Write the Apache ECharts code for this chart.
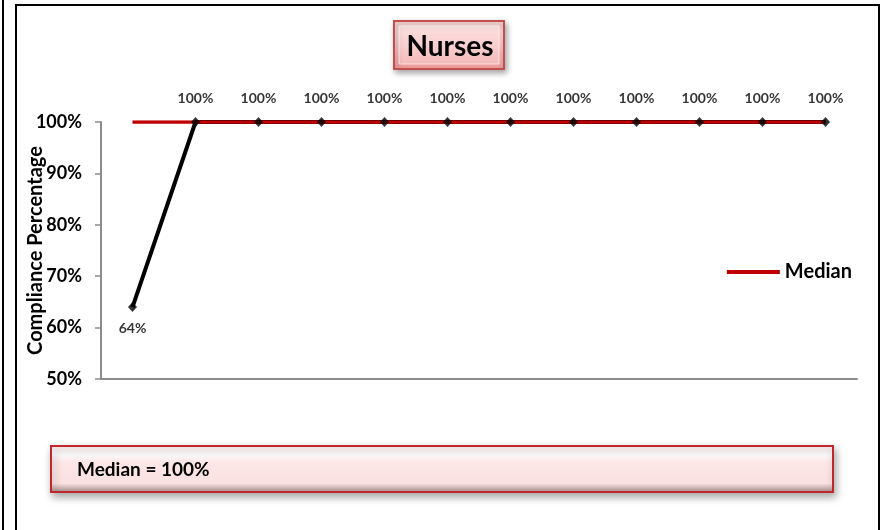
<!DOCTYPE html>
<html>
<head>
<meta charset="utf-8">
<script src="https://cdn.jsdelivr.net/npm/echarts@6/dist/echarts.min.js"></script>
<style>
  html, body { margin: 0; padding: 0; background: #fff; }
  #chart { width: 881px; height: 530px; }
</style>
</head>
<body>
<div id="chart"></div>
<script>
// data
var periods = ['1', '2', '3', '4', '5', '6', '7', '8', '9', '10', '11', '12'];
var compliance = [64, 100, 100, 100, 100, 100, 100, 100, 100, 100, 100, 100];
var median = [100, 100, 100, 100, 100, 100, 100, 100, 100, 100, 100, 100];
var yTicks = [50, 60, 70, 80, 90, 100];
var titleText = 'Nurses';
var medianText = 'Median = 100%';

var font = 'Lato, "Open Sans", sans-serif';

var chart = echarts.init(document.getElementById('chart'));

var pinkBox = {
    type: 'linear', x: 0, y: 0, x2: 0, y2: 1,
    colorStops: [
        { offset: 0, color: '#fbd9d9' },
        { offset: 0.45, color: '#f7c3c3' },
        { offset: 1, color: '#f09a9a' }
    ]
};

var option = {
    animation: false,
    grid: { left: 101, top: 122, right: 24, bottom: 151 },
    legend: {
        data: ['Median'],
        right: 24,
        top: 257,
        itemWidth: 53,
        itemHeight: 4,
        itemGap: 6,
        icon: 'rect',
        textStyle: { fontFamily: font, fontWeight: 'bold', fontSize: 20, color: '#000' }
    },
    xAxis: {
        type: 'category',
        data: periods,
        boundaryGap: true,
        axisLine: { lineStyle: { color: '#8c8c8c', width: 2 } },
        axisTick: { show: false },
        axisLabel: { show: false }
    },
    yAxis: {
        type: 'value',
        min: yTicks[0],
        max: yTicks[yTicks.length - 1],
        interval: 10,
        name: 'Compliance Percentage',
        nameLocation: 'middle',
        nameGap: 55,
        nameMoveOverlap: false,
        nameTextStyle: { fontFamily: font, fontWeight: 'bold', fontSize: 20, color: '#000' },
        splitLine: { show: false },
        axisLine: { show: true, lineStyle: { color: '#8c8c8c', width: 2 } },
        axisTick: { show: true, length: 6, lineStyle: { color: '#8c8c8c', width: 1.5 } },
        axisLabel: {
            margin: 19,
            fontFamily: font,
            fontWeight: 'bold',
            fontSize: 18,
            color: '#000',
            formatter: '{value}%'
        }
    },
    series: [
        {
            name: 'Compliance',
            type: 'line',
            data: compliance,
            z: 1,
            showSymbol: false,
            lineStyle: { color: '#000', width: 4 },
            itemStyle: { color: '#000' }
        },
        {
            name: 'Median',
            type: 'line',
            data: median,
            z: 2,
            showSymbol: false,
            lineStyle: { color: '#c00000', width: 3.5 },
            itemStyle: { color: '#c00000' }
        },
        {
            name: 'Points',
            type: 'scatter',
            z: 3,
            symbol: 'diamond',
            symbolSize: [9, 10],
            itemStyle: { color: '#000' },
            label: {
                show: true,
                formatter: '{c}%',
                fontFamily: font,
                fontWeight: 'bold',
                fontSize: 14,
                color: '#000',
                position: 'top',
                distance: 12
            },
            // first point label sits below the point, the others above
            data: compliance.map(function (v, i) {
                if (i === 0) {
                    return { value: v, label: { position: 'bottom', distance: 9, color: '#000' } };
                }
                return v;
            })
        }
    ],
    graphic: [
        // outer frame
        { type: 'line', shape: { x1: 3, y1: 0, x2: 3, y2: 530 }, style: { stroke: '#000', lineWidth: 2 } },
        { type: 'polyline', shape: { points: [[16, 530], [16, 5], [879, 5], [879, 530]] },
          style: { stroke: '#000', lineWidth: 2, fill: null } },
        // title box
        {
            type: 'group',
            left: 393,
            top: 20,
            children: [
                { type: 'rect', shape: { x: 0, y: 0, width: 110, height: 48 },
                  style: { fill: pinkBox, stroke: '#c0504d', lineWidth: 2,
                           shadowBlur: 6, shadowOffsetX: 2, shadowOffsetY: 3, shadowColor: 'rgba(0,0,0,0.35)' } },
                { type: 'rect', shape: { x: 5, y: 5, width: 100, height: 38 },
                  style: { fill: 'rgba(255,255,255,0.25)', stroke: 'rgba(255,255,255,0.6)', lineWidth: 1 } },
                { type: 'text', x: 56, y: 26,
                  style: { text: titleText, fontFamily: font, fontWeight: 'bold', fontSize: 28,
                           fill: '#000', align: 'center', verticalAlign: 'middle' } }
            ]
        },
        // median box
        {
            type: 'group',
            left: 50,
            top: 445,
            children: [
                { type: 'rect', shape: { x: 0, y: 0, width: 782, height: 46 },
                  style: { fill: {
                        type: 'linear', x: 0, y: 0, x2: 0, y2: 1,
                        colorStops: [
                            { offset: 0, color: '#fde9e9' },
                            { offset: 0.2, color: '#ffffff' },
                            { offset: 0.35, color: '#fde6e6' },
                            { offset: 0.8, color: '#fbe1e1' },
                            { offset: 1, color: '#a08a8a' }
                        ] },
                        stroke: '#c0292b', lineWidth: 2,
                        shadowBlur: 8, shadowOffsetX: 2, shadowOffsetY: 4, shadowColor: 'rgba(0,0,0,0.35)' } },
                { type: 'text', x: 26, y: 24,
                  style: { text: medianText, fontFamily: font, fontWeight: 'bold', fontSize: 19,
                           fill: '#000', verticalAlign: 'middle' } }
            ]
        }
    ]
};

chart.setOption(option);
</script>
</body>
</html>
